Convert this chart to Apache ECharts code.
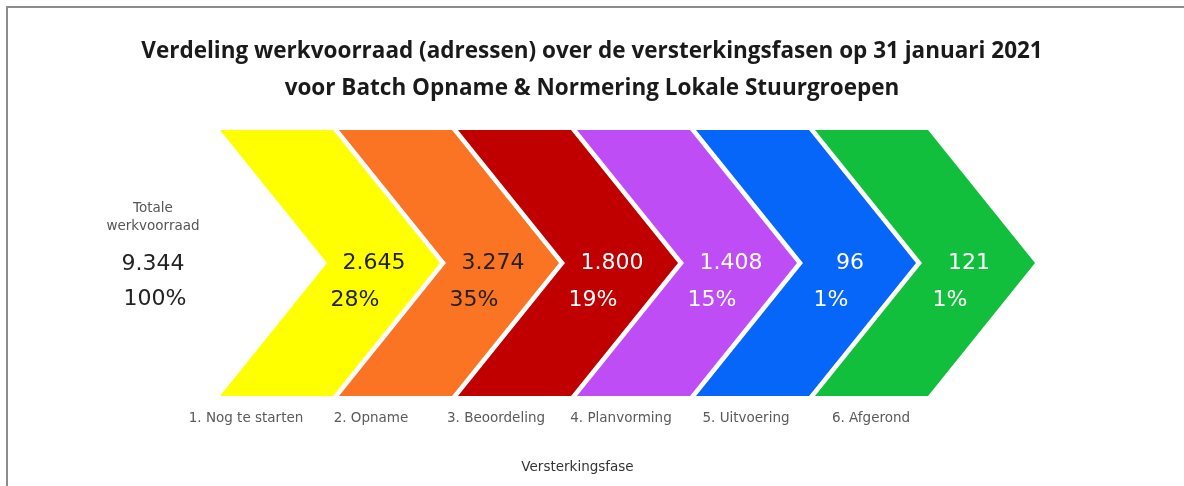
<!DOCTYPE html>
<html>
<head>
<meta charset="utf-8">
<script src="https://cdn.jsdelivr.net/npm/echarts@6/dist/echarts.min.js"></script>
<style>
html,body{margin:0;padding:0;background:#fff;}
#chart{width:1184px;height:486px;}
</style>
</head>
<body>
<div id="chart"></div>
<script>
// ---- data ----
const categories = ['1. Nog te starten', '2. Opname', '3. Beoordeling', '4. Planvorming', '5. Uitvoering', '6. Afgerond'];
const values = [2645, 3274, 1800, 1408, 96, 121];
const percents = [28, 35, 19, 15, 1, 1];
const totalValue = 9344;
const totalPercent = 100;
const titleLines = ['Verdeling werkvoorraad (adressen) over de versterkingsfasen op 31 januari 2021', 'voor Batch Opname & Normering Lokale Stuurgroepen'];

// ---- styling ----
const colors = ['#FFFF00', '#FA7424', '#C00000', '#BF4DF6', '#0766FA', '#12BF3C'];
const textColors = ['#222222', '#222222', '#ffffff', '#ffffff', '#ffffff', '#ffffff'];
const fmt = v => v.toLocaleString('de-DE');

const W = 0.95;   // chevron body width (axis units)
const D = 0.899;  // chevron point depth (axis units)

const chart = echarts.init(document.getElementById('chart'), null, {renderer: 'canvas'});
chart.setOption({
  animation: false,
  backgroundColor: '#ffffff',
  title: {
    text: titleLines.join('\n'),
    left: 'center',
    top: 28,
    textStyle: {fontFamily: 'Open Sans', fontWeight: 'bold', fontSize: 22.5, lineHeight: 37, color: '#1a1a1a'}
  },
  grid: {left: 183.5, width: 750, top: 130, height: 266},
  xAxis: [
    {
      type: 'category', data: categories, position: 'bottom',
      axisLine: {show: false}, axisTick: {show: false}, splitLine: {show: false},
      axisLabel: {margin: 15, fontFamily: 'DejaVu Sans', fontSize: 13.5, color: '#5a5a5a', interval: 0},
      name: 'Versterkingsfase', nameLocation: 'middle', nameGap: 64,
      nameTextStyle: {fontFamily: 'DejaVu Sans', fontSize: 13.5, color: '#333', padding: [0, 0, 0, 38]}
    },
    {type: 'value', show: false, min: -0.3067, max: 5.9958}
  ],
  yAxis: {type: 'value', show: false, min: 0, max: 1},
  graphic: [
    {type: 'polyline', shape: {points: [[7, 486], [7, 7], [1184, 7]]}, style: {stroke: '#8c8c8c', lineWidth: 2, fill: null}},
    {type: 'text', x: 153, y: 217, style: {text: 'Totale\nwerkvoorraad', align: 'center', verticalAlign: 'middle', fontFamily: 'DejaVu Sans', fontSize: 13.5, lineHeight: 18, fill: '#555'}},
    {type: 'text', x: 153, y: 264, style: {text: fmt(totalValue), align: 'center', verticalAlign: 'middle', fontFamily: 'DejaVu Sans', fontSize: 22, fill: '#222'}},
    {type: 'text', x: 155, y: 299, style: {text: totalPercent + '%', align: 'center', verticalAlign: 'middle', fontFamily: 'DejaVu Sans', fontSize: 22, fill: '#222'}}
  ],
  series: [{
    type: 'custom',
    xAxisIndex: 1,
    yAxisIndex: 0,
    data: values.map((v, i) => [i, v, percents[i]]),
    renderItem: function (params, api) {
      const i = api.value(0);
      const pts = [
        api.coord([i, 1]),
        api.coord([i + W, 1]),
        api.coord([i + W + D, 0.5]),
        api.coord([i + W, 0]),
        api.coord([i, 0]),
        api.coord([i + D, 0.5])
      ];
      const numPos = api.coord([i + D + 0.395, 0.5]);
      const pctPos = api.coord([i + D + 0.235, 0.36]);
      const idx = params.dataIndex;
      return {
        type: 'group',
        children: [
          {type: 'polygon', shape: {points: pts}, style: {fill: colors[idx]}},
          {type: 'text', x: numPos[0], y: numPos[1], style: {text: fmt(api.value(1)), align: 'center', verticalAlign: 'middle', fontFamily: 'DejaVu Sans', fontSize: 22, fill: textColors[idx]}},
          {type: 'text', x: pctPos[0], y: pctPos[1], style: {text: api.value(2) + '%', align: 'center', verticalAlign: 'middle', fontFamily: 'DejaVu Sans', fontSize: 22, fill: textColors[idx]}}
        ]
      };
    }
  }]
});
</script>
</body>
</html>
